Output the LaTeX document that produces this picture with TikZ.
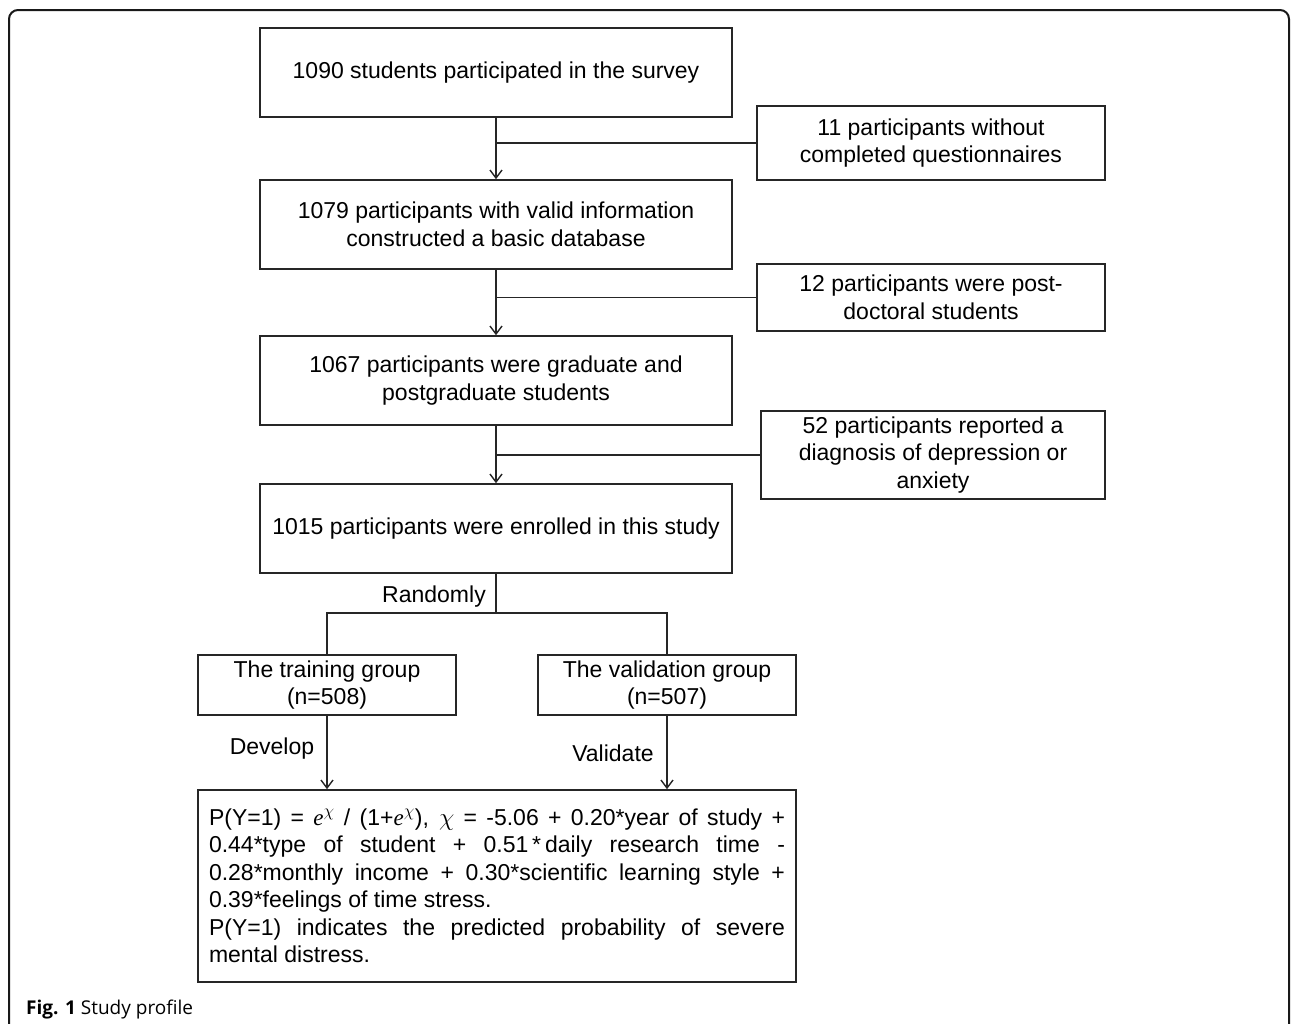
\documentclass[tikz,border=0pt]{standalone}
\usepackage{fontspec}
\setmainfont{Liberation Sans}
\newfontfamily\capfont{Open Sans}
\newfontfamily\serfont{Liberation Serif}
\usetikzlibrary{arrows.meta}
\newcommand{\expchi}{{\serfont\itshape e}\textsuperscript{$\chi$}}
\begin{document}
\begin{tikzpicture}[x=1pt,y=-1pt,
  every node/.style={font=\fontsize{23}{27.5}\selectfont},
  box/.style={draw=black!85, line width=1.6pt, align=center, inner sep=0pt, minimum width=472pt, minimum height=89pt},
  sidebox/.style={draw=black!85, line width=1.6pt, align=center, inner sep=0pt},
  conn/.style={draw=black!85, line width=1.6pt},
  arr/.style={conn, -{Straight Barb[length=8pt,width=12pt,line width=1.4pt]}},
  lbl/.style={inner sep=0pt}
]
\useasboundingbox (0,0) rectangle (1292,1023);
\fill[white] (0,0) rectangle (1292,1023);
% outer frame
\draw[line width=2pt, black!90, rounded corners=9pt] (9,1040) -- (9,10) -- (1289,10) -- (1289,1040);

\node[box] (A) at (496,72.5) {\raisebox{-2pt}{1090 students participated in the survey}};
\node[box] (C) at (496,224.5) {1079 participants with valid information\\constructed a basic database};
\node[box] (E) at (496,380.5) {1067 participants were graduate and\\postgraduate students};
\node[box] (G) at (496,528.5) {\raisebox{-2pt}{1015 participants were enrolled in this study}};

\node[sidebox, minimum width=348pt, minimum height=74pt] (B) at (931,143) {11 participants without\\completed questionnaires};
\node[sidebox, minimum width=348pt, minimum height=67pt] (D) at (931,297.5) {12 participants were post-\\doctoral students};
\node[sidebox, minimum width=344pt, minimum height=88pt] (F) at (933,455) {52 participants reported a\\diagnosis of depression or\\anxiety};

\node[sidebox, minimum width=258pt, minimum height=60pt] (H) at (327,685) {The training group\\(n=508)};
\node[sidebox, minimum width=258pt, minimum height=60pt] (I) at (667,685) {The validation group\\(n=507)};

\node[sidebox, minimum width=598pt, minimum height=192pt, align=left] (J) at (497,886) {%
\parbox{576pt}{\fontsize{23}{27.5}\selectfont\tolerance=10000\emergencystretch=50pt\parfillskip=0pt plus 1fil
P(Y=1) = \expchi{} / (1+\expchi), $\chi$ = -5.06 + 0.20*year of study +\linebreak
0.44*type of student + 0.51\,*\,daily research time -\linebreak
0.28*monthly income + 0.30*scientific learning style +\linebreak
0.39*feelings of time stress.\\
P(Y=1) indicates the predicted probability of severe\linebreak
mental distress.}};

% main flow
\coordinate (b1) at (496,143);
\coordinate (b2) at (496,297.5);
\coordinate (b3) at (496,455);
\draw[arr] (A.south) -- (C.north);
\draw[conn] (b1) -- (B.west);
\draw[arr] (C.south) -- (E.north);
\draw[conn] (b2) -- (D.west);
\draw[arr] (E.south) -- (G.north);
\draw[conn] (b3) -- (F.west);

\coordinate (r) at (496,613);
\draw[conn] (G.south) -- (r);
\draw[conn] (H.north) |- (r) -| (I.north);
\node[lbl] (rl) at (434,597) {Randomly};

\draw[arr] (H.south) -- (H.south |- J.north);
\draw[arr] (I.south) -- (I.south |- J.north);
\node[lbl] (dl) at (272,749) {Develop};
\node[lbl] (vl) at (613,753) {Validate};

\node[lbl, anchor=base west, font=\capfont\fontsize{19}{23}\selectfont] (cap) at (26,1014) {\textbf{Fig. 1} Study profile};
\end{tikzpicture}
\end{document}
